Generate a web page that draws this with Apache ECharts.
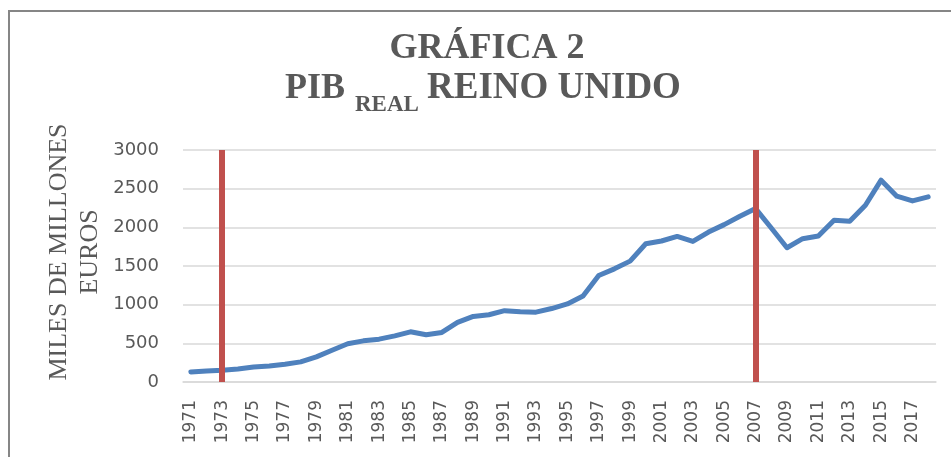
<!DOCTYPE html>
<html>
<head>
<meta charset="utf-8">
<script src="https://cdn.jsdelivr.net/npm/echarts@6/dist/echarts.min.js"></script>
<style>
html,body{margin:0;padding:0;background:#fff;}
#chart{width:951px;height:457px;}
</style>
</head>
<body>
<div id="chart"></div>
<script>
const years = ['1971','1972','1973','1974','1975','1976','1977','1978','1979','1980',
  '1981','1982','1983','1984','1985','1986','1987','1988','1989','1990',
  '1991','1992','1993','1994','1995','1996','1997','1998','1999','2000',
  '2001','2002','2003','2004','2005','2006','2007','2008','2009','2010',
  '2011','2012','2013','2014','2015','2016','2017','2018'];
const pibReal = [130,143,152,169,195,208,229,260,325,411,
  494,532,554,597,649,610,641,771,848,870,
  922,909,903,950,1009,1113,1377,1463,1563,1788,
  1823,1883,1818,1939,2035,2143,2242,1991,1736,1853,
  1887,2091,2078,2286,2610,2403,2342,2394];
const markYears = ['1973','2007'];
const yTicks = {min:0, max:3000, interval:500};

const chart = echarts.init(document.getElementById('chart'));
chart.setOption({
  animation:false,
  backgroundColor:'#ffffff',
  grid:{left:183, right:15, top:150, bottom:75, containLabel:false},
  graphic:[
    {type:'rect', shape:{x:9, y:11, width:960, height:470}, style:{fill:'none', stroke:'#868686', lineWidth:2}, silent:true},
    {type:'text', x:487, y:67, style:{text:'GRÁFICA 2', font:'bold 36px "Liberation Serif"', fill:'#595959', textAlign:'center', textVerticalAlign:'bottom'}},
    {type:'text', x:285, y:107, style:{text:'PIB', font:'bold 36px "Liberation Serif"', fill:'#595959', textAlign:'left', textVerticalAlign:'bottom'}},
    {type:'text', x:355, y:117, style:{text:'REAL', font:'bold 23px "Liberation Serif"', fill:'#595959', textAlign:'left', textVerticalAlign:'bottom'}},
    {type:'text', x:427, y:107, style:{text:'REINO UNIDO', font:'bold 37px "Liberation Serif"', fill:'#595959', textAlign:'left', textVerticalAlign:'bottom'}},
    {type:'text', x:75, y:252, rotation:Math.PI/2, style:{text:'MILES DE MILLONES\nEUROS', font:'26px "Liberation Serif"', lineHeight:31, fill:'#595959', textAlign:'center', textVerticalAlign:'middle'}}
  ],
  xAxis:{
    type:'category', data:years, boundaryGap:true,
    axisLine:{show:true, lineStyle:{color:'#D9D9D9', width:1.5}},
    axisTick:{show:false},
    axisLabel:{interval:1, rotate:90, margin:18, color:'#595959', fontFamily:'DejaVu Sans', fontSize:17}
  },
  yAxis:{
    type:'value', min:yTicks.min, max:yTicks.max, interval:yTicks.interval,
    axisLine:{show:false}, axisTick:{show:false},
    splitLine:{lineStyle:{color:'#D9D9D9', width:1.5}},
    axisLabel:{margin:24, color:'#595959', fontFamily:'DejaVu Sans', fontSize:18, formatter: v => String(v)}
  },
  series:[{
    type:'line', data:pibReal, symbol:'none',
    lineStyle:{color:'#4F81BD', width:5, cap:'round', join:'round'},
    z:3
  },{
    type:'line', data:[], symbol:'none', z:5,
    markLine:{
      silent:true, symbol:'none', animation:false,
      label:{show:false},
      lineStyle:{color:'#C0504D', width:6, type:'solid'},
      data: markYears.map(y => ({xAxis:y}))
    }
  }]
});
</script>
</body>
</html>
